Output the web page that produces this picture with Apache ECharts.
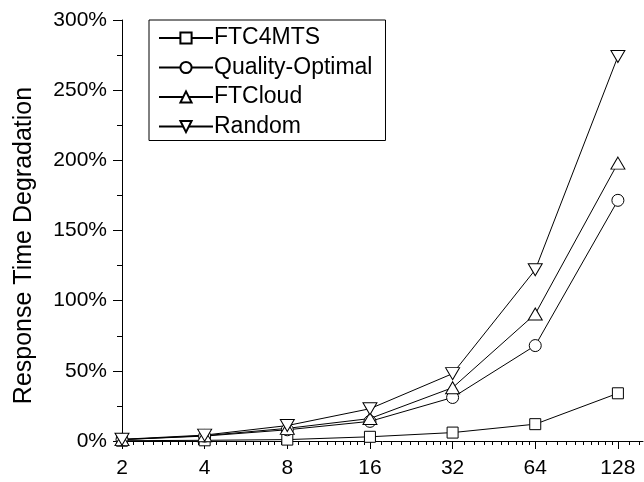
<!DOCTYPE html>
<html>
<head>
<meta charset="utf-8">
<script src="https://cdn.jsdelivr.net/npm/echarts@6/dist/echarts.min.js"></script>
<style>
html,body{margin:0;padding:0;background:#fff;}
#chart{width:644px;height:482px;}
</style>
</head>
<body>
<div id="chart"></div>
<script>
// ---- data ----
var xValues = [2, 4, 8, 16, 32, 64, 128];
var xTickLabels = [2, 4, 8, 16, 32, 64, 128];
var seriesNames = ['FTC4MTS', 'Quality-Optimal', 'FTCloud', 'Random'];
var ftc4mts = [0.2, 0.5, 1, 3, 6, 12, 34];
var qualityOptimal = [1, 3.5, 8, 14, 31, 68, 171.5];
var ftCloud = [1, 3.8, 9, 16, 38, 90.5, 198];
var randomSel = [1.2, 4.2, 11, 23, 48, 122, 274];
var yTicks = [0, 50, 100, 150, 200, 250, 300];

// ---- build ----
var X_MAX = 158;
var minorTicks = [];
for (var oct = 2; oct <= 128; oct *= 2) {
  for (var k = 1; k <= 9; k++) {
    var v = oct * (1 + 0.1 * k);
    if (v < X_MAX) minorTicks.push(+v.toFixed(4));
  }
}
function pairs(arr) { return xValues.map(function (x, i) { return [x, arr[i]]; }); }

var FONT = "'Liberation Sans', Arial, Helvetica, sans-serif";
var black = '#000';
function mkSeries(name, data, symbol, size, rotate) {
  return {
    name: name, type: 'line', data: pairs(data),
    symbol: symbol, symbolSize: size, symbolRotate: rotate || 0,
    showAllSymbol: true,
    lineStyle: { color: black, width: 1 },
    itemStyle: { color: '#fff', borderColor: black, borderWidth: 1 },
    emphasis: { disabled: true },
    z: 3
  };
}

var chart = echarts.init(document.getElementById('chart'), null, { renderer: 'canvas' });
chart.setOption({
  animation: false,
  backgroundColor: '#fff',
  textStyle: { fontFamily: FONT },
  grid: { left: 122, right: 1, top: 20, bottom: 41, containLabel: false },
  legend: {
    left: 149, top: 20, orient: 'vertical',
    data: seriesNames,
    padding: [6, 13, 2, 9],
    itemGap: 5.5, itemWidth: 54, itemHeight: 14,
    borderColor: '#000', borderWidth: 1, backgroundColor: '#fff',
    textStyle: { fontFamily: FONT, fontSize: 23, lineHeight: 24, color: '#000', padding: [0, 0, 0, -4] },
    selectedMode: false
  },
  xAxis: [{
    type: 'log', logBase: 2, min: 2, max: X_MAX,
    axisLine: { show: true, lineStyle: { color: black, width: 1 } },
    axisTick: { show: true, inside: false, length: 8, lineStyle: { color: black, width: 1 }, customValues: xTickLabels },
    axisLabel: { color: black, fontSize: 21, fontFamily: FONT, margin: 17, customValues: xTickLabels, formatter: function (v) { return String(Math.round(v)); } },
    splitLine: { show: false },
    minorTick: { show: false }
  }, {
    type: 'log', logBase: 2, min: 2, max: X_MAX, position: 'bottom', offset: 0,
    axisLine: { show: false },
    axisTick: { show: true, inside: false, length: 4, lineStyle: { color: black, width: 1 }, customValues: minorTicks },
    axisLabel: { show: false },
    splitLine: { show: false }
  }],
  yAxis: {
    type: 'value', min: 0, max: 300, interval: 50,
    name: 'Response Time Degradation', nameLocation: 'middle', nameGap: 85,
    nameTextStyle: { fontFamily: FONT, fontSize: 25, color: black, padding: [0, 30, 0, 0] },
    axisLine: { show: true, lineStyle: { color: black, width: 1 } },
    axisTick: { show: true, inside: false, length: 9, lineStyle: { color: black, width: 1 } },
    minorTick: { show: true, splitNumber: 2, length: 5, lineStyle: { color: black, width: 1 } },
    axisLabel: { color: black, fontSize: 21, fontFamily: FONT, margin: 15, formatter: '{value}%' },
    splitLine: { show: false }
  },
  series: [
    mkSeries(seriesNames[0], ftc4mts, 'rect', 11),
    mkSeries(seriesNames[1], qualityOptimal, 'circle', 12),
    mkSeries(seriesNames[2], ftCloud, 'triangle', [14, 12]),
    mkSeries(seriesNames[3], randomSel, 'triangle', [14, 12], 180)
  ]
});
</script>
</body>
</html>
